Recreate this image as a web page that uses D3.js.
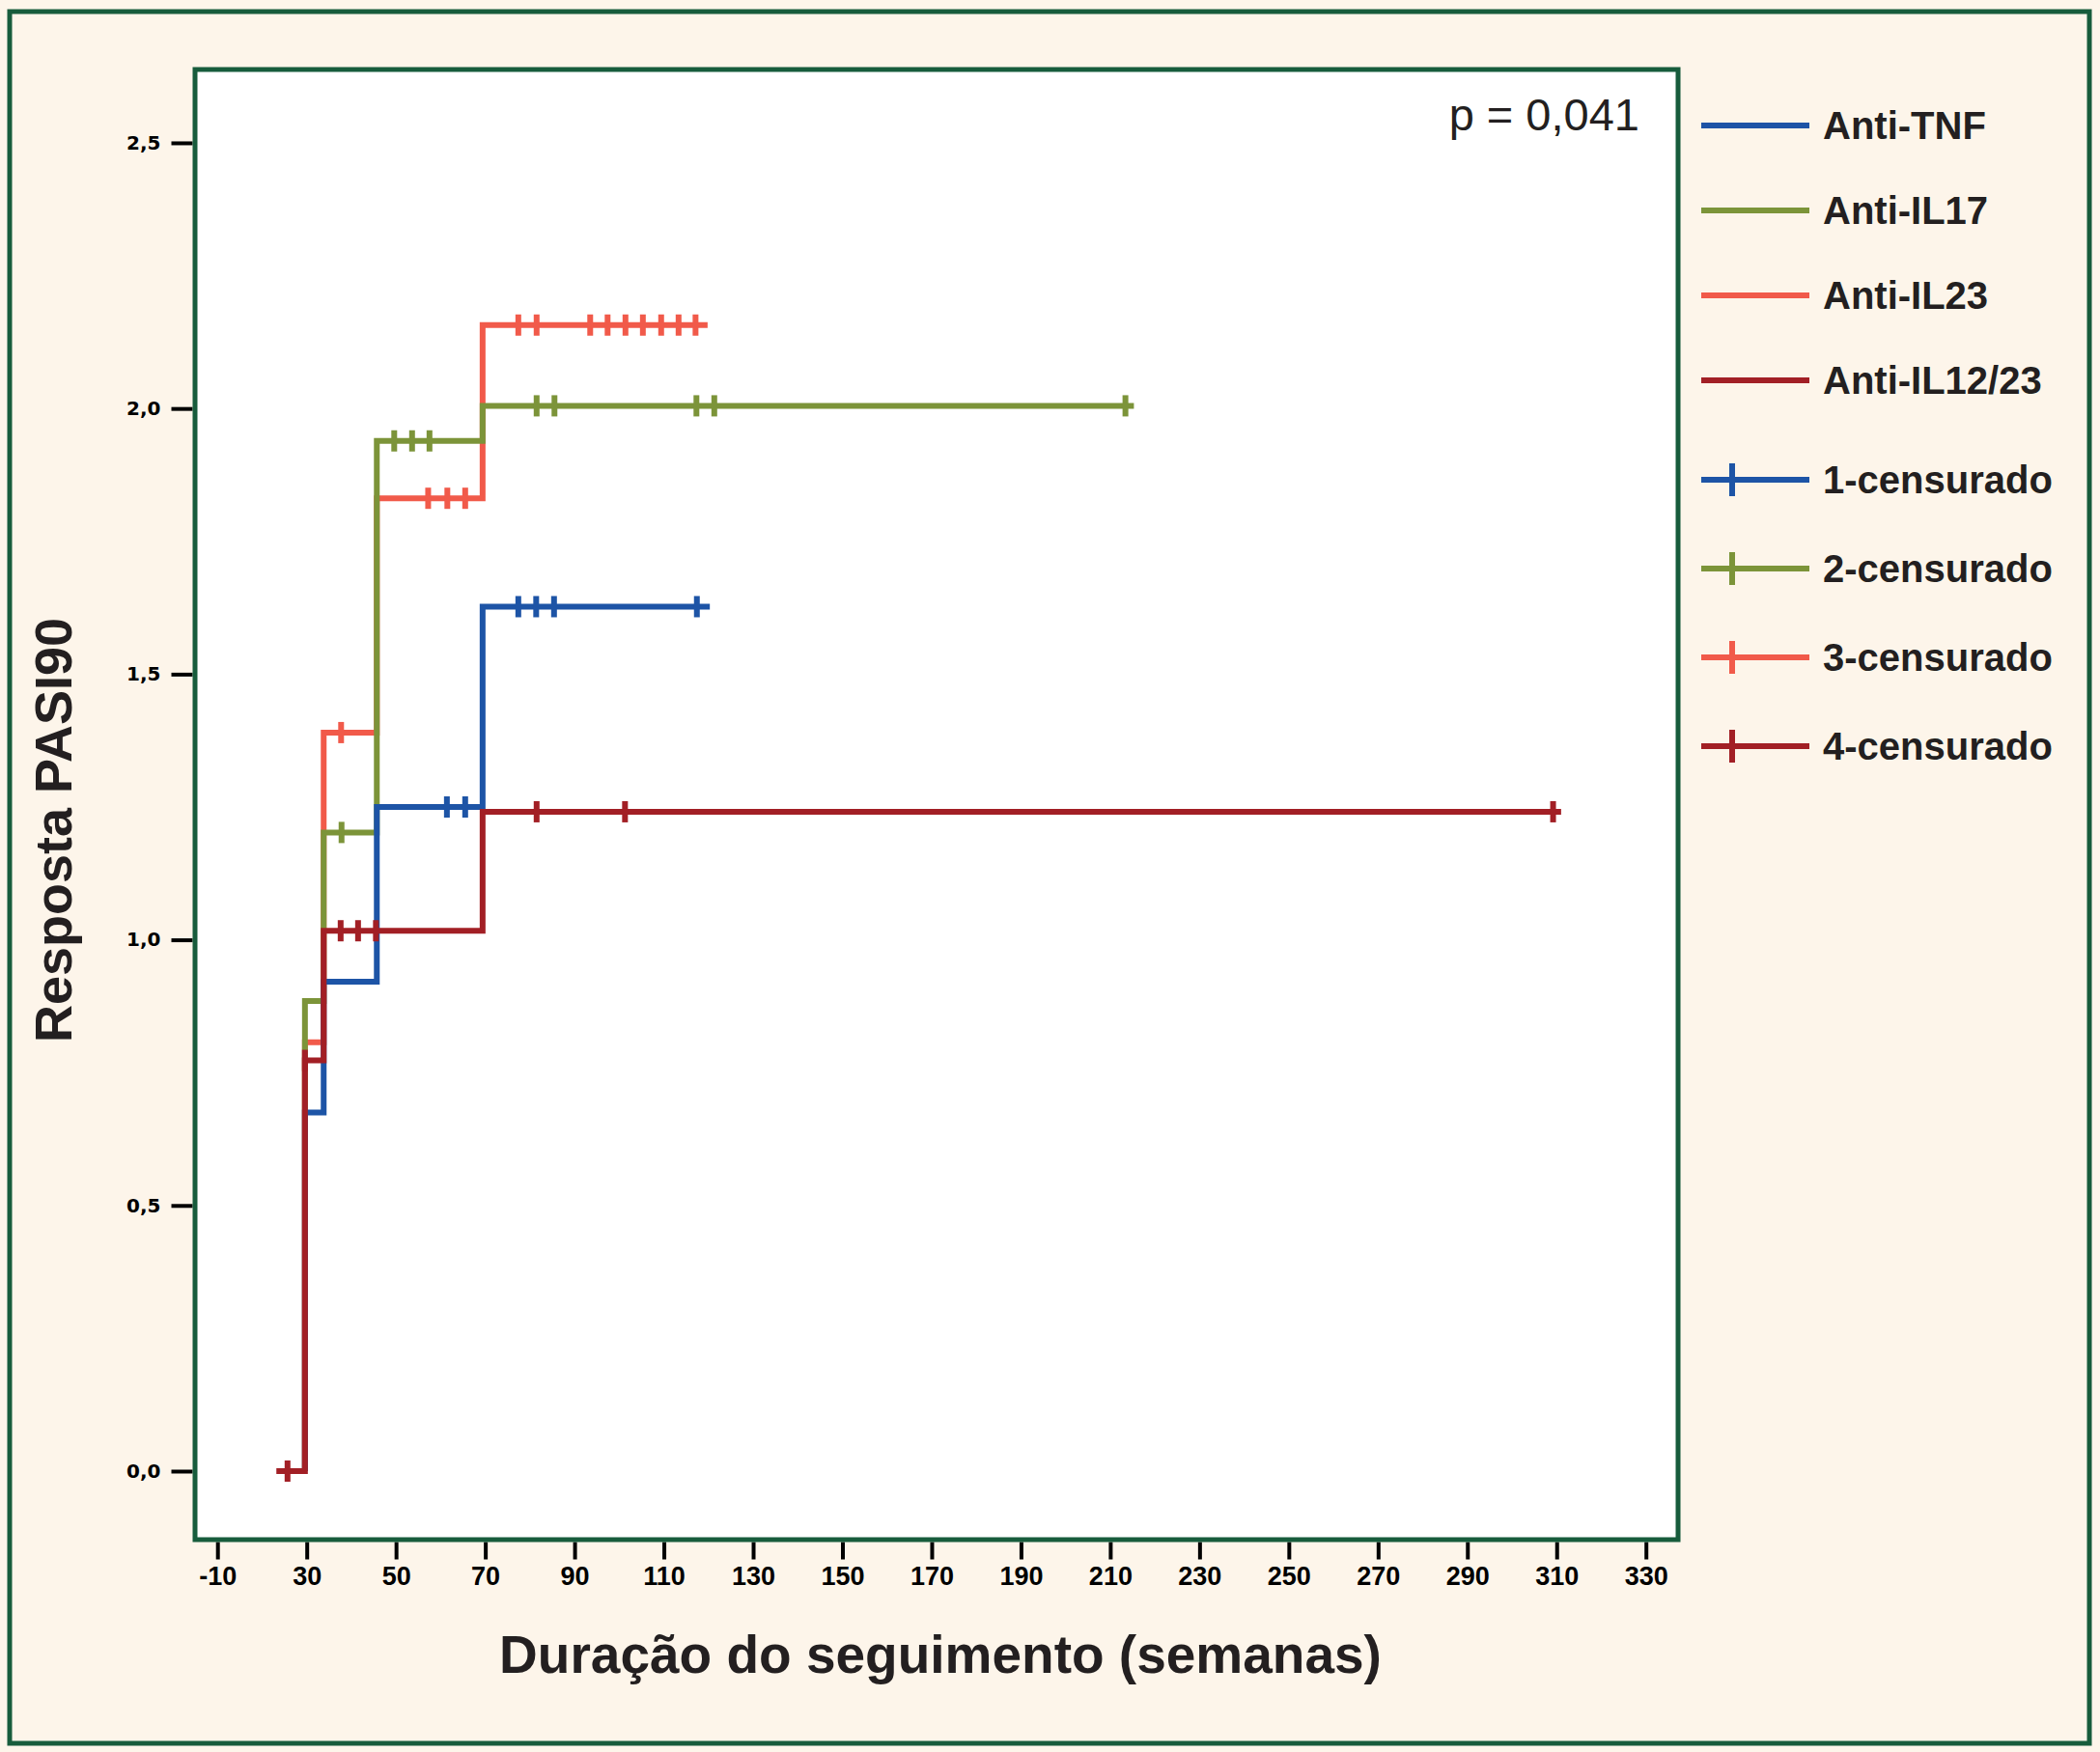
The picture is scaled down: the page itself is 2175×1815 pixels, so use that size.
<!DOCTYPE html>
<html>
<head>
<meta charset="utf-8">
<script src="https://d3js.org/d3.v7.min.js"></script>
<style>
  body { margin: 0; background: #fdf5ea; }
</style>
</head>
<body>
<script>
// ---- data ----
const groups = ["Anti-TNF", "Anti-IL17", "Anti-IL23", "Anti-IL12/23"];
const censorLabels = ["1-censurado", "2-censurado", "3-censurado", "4-censurado"];

const xTickValues = [10, 30, 50, 70, 90, 110, 130, 150, 170, 190, 210, 230, 250, 270, 290, 310, 330];
const xTickLabels = ["-10", "30", "50", "70", "90", "110", "130", "150", "170", "190", "210", "230", "250", "270", "290", "310", "330"];
const yTickValues = [0, 0.5, 1.0, 1.5, 2.0, 2.5];

// Anti-TNF
const tnfStart = 29.6;
const tnfTimes = [29.6, 33.8, 45.7, 69.4];
const tnfValues = [0.675, 0.921, 1.25, 1.627];
const tnfCensored = [61.4, 65.5, 77.4, 81.4, 85.4, 117.4];
const tnfEnd = 120.3;

// Anti-IL17
const il17Start = 29.6;
const il17Times = [29.6, 33.8, 45.7, 69.4];
const il17Values = [0.885, 1.202, 1.939, 2.005];
const il17Censored = [37.8, 49.6, 53.6, 57.5, 81.5, 85.5, 117.3, 121.3, 213.4];
const il17End = 215.3;

// Anti-IL23
const il23Start = 29.6;
const il23Times = [29.6, 33.8, 45.7, 69.4];
const il23Values = [0.807, 1.39, 1.831, 2.157];
const il23Censored = [37.7, 57.2, 61.5, 65.5, 77.4, 81.5, 93.5, 97.4, 101.4, 105.3, 109.4, 113.3, 117.1];
const il23End = 119.8;

// Anti-IL12/23
const il1223Start = 23.2;
const il1223Times = [29.6, 33.8, 69.4];
const il1223Values = [0.773, 1.017, 1.241];
const il1223Censored = [25.7, 29.6, 37.6, 41.5, 45.5, 81.5, 101.3, 309.2];
const il1223End = 311.0;

const pLabel = "p = 0,041";
const xTitle = "Duração do seguimento (semanas)";
const yTitle = "Resposta PASI90";

// ---- styles ----
const colors = ["#1d54a6", "#7c9439", "#f15a4a", "#a21f25"];
const frameGreen = "#175c3c";
const ink = "#231f20";

const W = 2175, H = 1815;
const plot = { left: 202, right: 1738, top: 72, bottom: 1595 };

const series = [
  { start: tnfStart, times: tnfTimes, values: tnfValues, censored: tnfCensored, end: tnfEnd, color: colors[0] },
  { start: il17Start, times: il17Times, values: il17Values, censored: il17Censored, end: il17End, color: colors[1] },
  { start: il23Start, times: il23Times, values: il23Values, censored: il23Censored, end: il23End, color: colors[2] },
  { start: il1223Start, times: il1223Times, values: il1223Values, censored: il1223Censored, end: il1223End, color: colors[3] }
];
// draw order (green over salmon, dark red on top)
const drawOrder = [2, 1, 0, 3];

const svg = d3.select("body").append("svg")
  .attr("width", W).attr("height", H)
  .style("display", "block");

svg.append("rect").attr("width", W).attr("height", H).attr("fill", "#fdf5ea");
svg.append("rect")
  .attr("x", 10).attr("y", 12).attr("width", 2154).attr("height", 1794)
  .attr("fill", "none").attr("stroke", frameGreen).attr("stroke-width", 5);

const x = d3.scaleLinear().domain([4.98, 337.2]).range([plot.left, plot.right]);
const y = d3.scaleLinear().domain([-0.129, 2.638]).range([plot.bottom, plot.top]);

// plot frame
svg.append("rect")
  .attr("x", plot.left).attr("y", plot.top)
  .attr("width", plot.right - plot.left).attr("height", plot.bottom - plot.top)
  .attr("fill", "#ffffff");

// x axis
const xAxis = svg.append("g")
  .attr("transform", `translate(0, ${plot.bottom + 2.5})`)
  .call(d3.axisBottom(x).tickValues(xTickValues)
    .tickFormat((d, i) => xTickLabels[i]).tickSize(18).tickPadding(7));
xAxis.select(".domain").remove();
xAxis.selectAll(".tick line").attr("stroke", "#000").attr("stroke-width", 4);
xAxis.selectAll(".tick text")
  .attr("fill", "#000")
  .style("font-family", "'Liberation Sans Narrow', 'Liberation Sans', Arial, sans-serif")
  .style("font-weight", "bold")
  .style("font-size", "27px");

// y axis
const yAxis = svg.append("g")
  .attr("transform", `translate(${plot.left - 2.5}, 0)`)
  .call(d3.axisLeft(y).tickValues(yTickValues)
    .tickFormat(d => d3.format(".1f")(d).replace(".", ",")).tickSize(22).tickPadding(11));
yAxis.select(".domain").remove();
yAxis.selectAll(".tick line").attr("stroke", "#000").attr("stroke-width", 4);
yAxis.selectAll(".tick text")
  .attr("fill", "#000")
  .style("font-family", "'DejaVu Sans', sans-serif")
  .style("font-weight", "bold")
  .style("font-size", "20px");

// curves
const line = d3.line().x(d => x(d[0])).y(d => y(d[1])).curve(d3.curveStepAfter);
const curves = svg.append("g");

drawOrder.forEach(k => {
  const s = series[k];
  const pts = [[s.start, 0]];
  s.times.forEach((t, i) => pts.push([t, s.values[i]]));
  pts.push([s.end, s.values[s.values.length - 1]]);

  curves.append("path")
    .attr("d", line(pts))
    .attr("fill", "none")
    .attr("stroke", s.color)
    .attr("stroke-width", 6)
    .attr("stroke-linejoin", "miter");

  const valueAt = t => {
    const i = d3.bisectRight(s.times, t + 1e-9);
    return i === 0 ? 0 : s.values[i - 1];
  };
  curves.selectAll(null)
    .data(s.censored)
    .enter().append("line")
    .attr("x1", d => x(d)).attr("x2", d => x(d))
    .attr("y1", d => y(valueAt(d)) - 11)
    .attr("y2", d => y(valueAt(d)) + 11)
    .attr("stroke", s.color)
    .attr("stroke-width", 6);
});

// frame border on top of curves
svg.append("rect")
  .attr("x", plot.left).attr("y", plot.top)
  .attr("width", plot.right - plot.left).attr("height", plot.bottom - plot.top)
  .attr("fill", "none").attr("stroke", frameGreen).attr("stroke-width", 5);

// p value
svg.append("text")
  .attr("x", 1698).attr("y", 135)
  .attr("text-anchor", "end")
  .attr("fill", ink)
  .style("font-family", "'Liberation Sans', Arial, sans-serif")
  .style("font-size", "47px")
  .text(pLabel);

// axis titles
svg.append("text")
  .attr("x", 974).attr("y", 1733)
  .attr("text-anchor", "middle")
  .attr("fill", ink)
  .style("font-family", "'Liberation Sans', Arial, sans-serif")
  .style("font-weight", "bold")
  .style("font-size", "55px")
  .text(xTitle);

svg.append("text")
  .attr("transform", "translate(74, 860) rotate(-90)")
  .attr("text-anchor", "middle")
  .attr("fill", ink)
  .style("font-family", "'Liberation Sans', Arial, sans-serif")
  .style("font-weight", "bold")
  .style("font-size", "54px")
  .text(yTitle);

// legend
const legend = svg.append("g");
const legendRow = i => i < 4 ? 130 + i * 88 : 497 + (i - 4) * 92;
const legendItems = groups.map((g, i) => ({ label: g, color: colors[i], cross: false }))
  .concat(censorLabels.map((g, i) => ({ label: g, color: colors[i], cross: true })));

legendItems.forEach((it, i) => {
  const ly = legendRow(i);
  legend.append("line")
    .attr("x1", 1762).attr("x2", 1874)
    .attr("y1", ly).attr("y2", ly)
    .attr("stroke", it.color).attr("stroke-width", 6);
  if (it.cross) {
    legend.append("line")
      .attr("x1", 1794).attr("x2", 1794)
      .attr("y1", ly - 17).attr("y2", ly + 17)
      .attr("stroke", it.color).attr("stroke-width", 6);
  }
  legend.append("text")
    .attr("x", 1888).attr("y", ly + 14)
    .attr("fill", ink)
    .style("font-family", "'Liberation Sans', Arial, sans-serif")
    .style("font-weight", "bold")
    .style("font-size", "40px")
    .text(it.label);
});
</script>
</body>
</html>
